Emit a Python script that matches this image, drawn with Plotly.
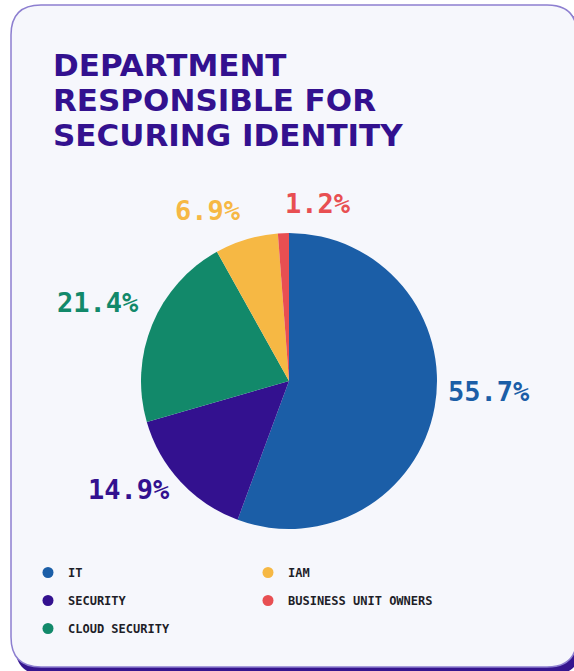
import math
import plotly.graph_objects as go

# survey result: which department owns identity security
departments = ["IT", "SECURITY", "CLOUD SECURITY", "IAM", "BUSINESS UNIT OWNERS"]
shares = [55.7, 14.9, 21.4, 6.9, 1.2]
colors = ["#1b5ea7", "#33118f", "#12896a", "#f6b844", "#e84f52"]

title_lines = ["DEPARTMENT", "RESPONSIBLE FOR", "SECURING IDENTITY"]

W, H = 574, 671
PIE_CX, PIE_CY, PIE_R = 289, 381, 148   # pie centre and radius, pixels
LABEL_GAP = 12


def px_x(x):
    return x / W


def px_y(y):
    return 1 - y / H


def rounded_rect(x0, y0, x1, y1, r):
    X, Y = px_x, px_y
    return (
        f"M {X(x0 + r)} {Y(y0)} L {X(x1 - r)} {Y(y0)} "
        f"Q {X(x1)} {Y(y0)} {X(x1)} {Y(y0 + r)} "
        f"L {X(x1)} {Y(y1 - r)} Q {X(x1)} {Y(y1)} {X(x1 - r)} {Y(y1)} "
        f"L {X(x0 + r)} {Y(y1)} Q {X(x0)} {Y(y1)} {X(x0)} {Y(y1 - r)} "
        f"L {X(x0)} {Y(y0 + r)} Q {X(x0)} {Y(y0)} {X(x0 + r)} {Y(y0)} Z"
    )


fig = go.Figure()

fig.add_trace(go.Pie(
    labels=departments,
    values=shares,
    sort=False,
    direction="clockwise",
    rotation=0,
    marker=dict(colors=colors, line=dict(width=0)),
    textinfo="none",
    showlegend=False,
    hoverinfo="skip",
    domain=dict(x=[px_x(PIE_CX - PIE_R), px_x(PIE_CX + PIE_R)],
                y=[px_y(PIE_CY + PIE_R), px_y(PIE_CY - PIE_R)]),
))

# legend entries with round markers, split in two columns
for i, (name, col) in enumerate(zip(departments, colors)):
    fig.add_trace(go.Scatter(
        x=[None], y=[None], mode="markers", name=name,
        marker=dict(color=col, size=11, symbol="circle"),
        legend="legend" if i < 3 else "legend2",
        legendgroup=name,
    ))

legend_style = dict(
    font=dict(family="DejaVu Sans Mono", size=12, color="#1e1e28", weight="bold"),
    bgcolor="rgba(0,0,0,0)",
    tracegroupgap=9,
    xanchor="left", yanchor="top",
    itemclick=False, itemdoubleclick=False,
)

shapes = [
    dict(type="path", xref="paper", yref="paper", layer="below",
         path=rounded_rect(15, 9, 581, 675, 30),
         fillcolor="#35158f", line=dict(width=0)),
    dict(type="path", xref="paper", yref="paper", layer="below",
         path=rounded_rect(11, 5, 577, 667, 30),
         fillcolor="#f6f7fc", line=dict(color="#8d7fd0", width=1.5)),
]

annotations = []
for j, line in enumerate(title_lines):
    annotations.append(dict(
        text=line, xref="paper", yref="paper",
        x=px_x(51), y=px_y(65 + 35 * j),
        xanchor="left", yanchor="middle", showarrow=False,
        font=dict(family="DejaVu Sans", size=31, color="#33118f", weight="bold"),
    ))

# percentage labels placed outside each slice at its mid angle
total = sum(shares)
start = 0.0
for val, col in zip(shares, colors):
    mid = (start + val / 2) / total * 2 * math.pi
    start += val
    rr = PIE_R + LABEL_GAP
    lx = PIE_CX + rr * math.sin(mid)
    ly = PIE_CY - rr * math.cos(mid)
    annotations.append(dict(
        text=f"{val:.1f}%", xref="paper", yref="paper",
        x=px_x(lx), y=px_y(ly),
        xanchor="left" if math.sin(mid) > -0.1 else "right",
        yanchor="bottom" if math.cos(mid) > -0.5 else "middle",
        showarrow=False,
        font=dict(family="DejaVu Sans Mono", size=27, color=col, weight="bold"),
    ))

fig.update_layout(
    width=W, height=H,
    margin=dict(l=0, r=0, t=0, b=0),
    paper_bgcolor="white",
    plot_bgcolor="rgba(0,0,0,0)",
    xaxis=dict(visible=False),
    yaxis=dict(visible=False),
    shapes=shapes,
    annotations=annotations,
    legend=dict(x=px_x(28), y=px_y(558), **legend_style),
    legend2=dict(x=px_x(248), y=px_y(558), **legend_style),
)

fig.write_html("out.html", config={"displayModeBar": False},
               post_script="document.body.style.margin='0';")
